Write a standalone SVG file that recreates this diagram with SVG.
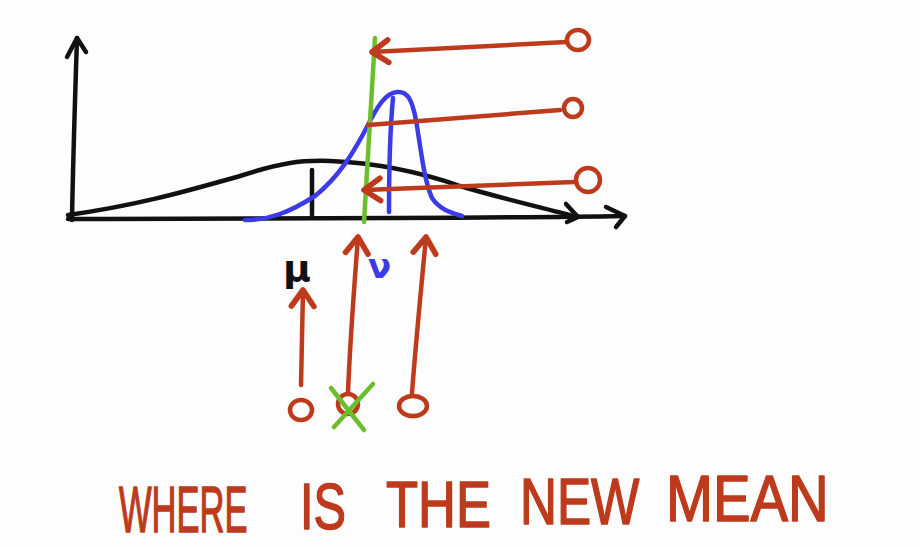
<svg xmlns="http://www.w3.org/2000/svg" width="920" height="548" viewBox="0 0 920 548">
<defs>
<style>
.ink{fill:none;stroke-linecap:round;stroke-linejoin:round}
.blk{stroke:#111;stroke-width:4.5}
.red{stroke:#bd3a1c;stroke-width:4.5}
.blu{stroke:#3b3be8;stroke-width:4.5}
.grn{stroke:#6cbf2c;stroke-width:4.5}
.word{font-family:"Liberation Sans",Arial,sans-serif;font-size:64px;fill:#bd3a1c;stroke:#bd3a1c;stroke-width:1.5;stroke-linejoin:round}
</style>
<marker id="rh" markerUnits="userSpaceOnUse" markerWidth="30" markerHeight="30" refX="0" refY="0" viewBox="-16 -12 20 24" orient="auto">
<path d="M-13,-9 L0,0 L-13,9" fill="none" stroke="#bd3a1c" stroke-width="4.5" stroke-linecap="round" stroke-linejoin="round"/>
</marker>
</defs>
<rect width="920" height="548" fill="#fdfdfd"/>

<g id="axes" class="ink blk">
<path d="M72,220 C73,160 75,100 77,38"/>
<path d="M67,57 L77,38 L86,52"/>
<path d="M68,219 C250,218 450,219 625,216"/>
<path d="M606,207 L625,216 L616,227"/>
</g>

<g id="prior-curve" class="ink blk">
<path d="M68,215 C140,205 190,190 240,176 C280,163 300,160 330,161 C380,163 420,172 460,186 C500,198 540,207 577,217"/>
<path d="M566,204 L578,217 L567,222"/>
<path d="M312,170 L312,215"/>
</g>

<g id="posterior-curve" class="ink blu">
<path d="M245,220 C270,220 290,212 315,196 C340,176 355,150 368,125 C378,105 386,93 397,92 C408,91 412,100 416,120 C421,150 424,180 432,198 C440,210 452,213 462,216"/>
<path d="M389,212 C389,170 390,130 393,98"/>
</g>

<g id="new-mean-line" class="ink grn">
<path d="M375,38 L364,222"/>
</g>

<g id="connectors" class="ink red">
<path d="M566,42 L372,52" marker-end="url(#rh)"/>
<path d="M560,110 L368,125"/>
<path d="M574,182 L364,190" marker-end="url(#rh)"/>
<path d="M301,385 L303,290" marker-end="url(#rh)"/>
<path d="M348,393 C350,340 354,290 358,237" marker-end="url(#rh)"/>
<path d="M412,393 C416,340 421,290 426,237" marker-end="url(#rh)"/>
</g>

<g id="obs-right-1"><ellipse class="ink red" cx="578" cy="40" rx="11" ry="10"/></g>
<g id="obs-right-2"><ellipse class="ink red" cx="573" cy="108" rx="9" ry="9"/></g>
<g id="obs-right-3"><ellipse class="ink red" cx="588" cy="180" rx="12" ry="12"/></g>
<g id="obs-bottom-1"><ellipse class="ink red" cx="301" cy="410" rx="11" ry="10"/></g>
<g id="obs-bottom-2">
<ellipse class="ink red" cx="348" cy="404" rx="10" ry="10"/>
<path class="ink grn" d="M331,388 L364,430 M373,384 L334,427"/>
</g>
<g id="obs-bottom-3"><ellipse class="ink red" cx="413" cy="406" rx="14" ry="10"/></g>

<g id="labels">
<text x="283" y="281" font-family="DejaVu Sans, sans-serif" font-size="38" font-weight="bold" fill="#111">μ</text>
<text x="368" y="278" font-family="DejaVu Sans, sans-serif" font-size="34" font-weight="bold" fill="#3b3be8">ν</text>
</g>

<g id="title">
<text class="word" transform="translate(119,532) scale(0.54,1)">WHERE</text>
<text class="word" transform="translate(300,529) scale(0.76,1)">IS</text>
<text class="word" transform="translate(386,527) scale(0.82,1)">THE</text>
<text class="word" transform="translate(520,524) scale(0.8,1)">NEW</text>
<text class="word" transform="translate(666,521) scale(0.88,1)">MEAN</text>
</g>
</svg>
